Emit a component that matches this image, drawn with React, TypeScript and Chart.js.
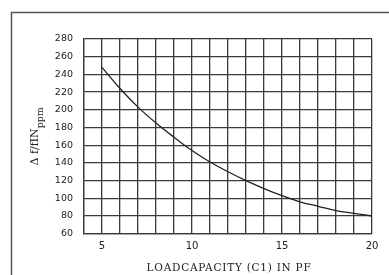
import React, { useEffect, useRef } from "react";
import { Chart, registerables } from "chart.js";

Chart.register(...registerables);

const capacities = [5, 6, 7, 8, 9, 10, 11, 12, 13, 14, 15, 16, 17, 18, 19, 20];
const deviation = [248, 224, 203, 185, 169, 154, 141, 130, 120, 111, 103, 96, 91, 86, 83, 80];
const xTickLabels = [5, 10, 15, 20];
const yTickLabels = [60, 80, 100, 120, 140, 160, 180, 200, 220, 240, 260, 280];
const xTitle = "LOADCAPACITY (C1) IN PF";
const yTitleMain = "\u0394 f/fIN";
const yTitleSub = "ppm";

const decorPlugin = {
  id: "decor",
  beforeDraw(chart: any) {
    const ctx = chart.ctx;
    ctx.save();
    ctx.strokeStyle = "#555";
    ctx.lineWidth = 1.5;
    ctx.strokeRect(11.5, 12.5, 420, 300);
    ctx.restore();
  },
  afterDraw(chart: any) {
    const ctx = chart.ctx;
    const area = chart.chartArea;
    ctx.save();
    ctx.fillStyle = "#222";
    // x title
    ctx.font = "10.5px 'DejaVu Serif'";
    (ctx as any).letterSpacing = "0.75px";
    ctx.textAlign = "center";
    ctx.textBaseline = "alphabetic";
    ctx.fillText(xTitle, (area.left + area.right) / 2 + 1, 271);
    (ctx as any).letterSpacing = "0px";
    // y title with subscript
    ctx.translate(38, (area.top + area.bottom) / 2);
    ctx.rotate(-Math.PI / 2);
    ctx.font = "11px 'DejaVu Serif'";
    const mainW = ctx.measureText(yTitleMain).width;
    ctx.font = "9.5px 'DejaVu Serif'";
    const subW = ctx.measureText(yTitleSub).width;
    const total = mainW + subW;
    ctx.textAlign = "left";
    ctx.font = "11px 'DejaVu Serif'";
    ctx.fillText(yTitleMain, -total / 2, 0);
    ctx.font = "9.5px 'DejaVu Serif'";
    ctx.fillText(yTitleSub, -total / 2 + mainW, 5);
    ctx.restore();
  },
};

export default function App() {
  const ref = useRef<HTMLCanvasElement>(null);
  useEffect(() => {
    if (!ref.current) return;
    const chart = new Chart(ref.current, {
      type: "line",
      data: {
        datasets: [
          {
            data: capacities.map((c, i) => ({ x: c, y: deviation[i] })),
            borderColor: "#222",
            borderWidth: 1.3,
            pointRadius: 0,
            tension: 0.4,
            fill: false,
          },
        ],
      },
      options: {
        responsive: false,
        animation: false,
        layout: { padding: { left: 0, top: 39, right: 17, bottom: 0 } },
        plugins: { legend: { display: false }, tooltip: { enabled: false } },
        scales: {
          x: {
            type: "linear",
            min: 4,
            max: 20,
            afterFit: (s: any) => {
              s.height = 41.3;
            },
            afterBuildTicks: (s: any) => {
              const t = [];
              for (let v = 4; v <= 20; v++) t.push({ value: v });
              s.ticks = t;
            },
            ticks: {
              autoSkip: false,
              maxRotation: 0,
              padding: 7,
              color: "#222",
              font: { family: "'DejaVu Sans'", size: 10 },
              callback: (v: any) => (xTickLabels.includes(Number(v)) ? String(v) : ""),
            },
            grid: { color: "#3a3a3a", lineWidth: 1.3, drawTicks: false },
            border: { color: "#3a3a3a", width: 1.3 },
          },
          y: {
            type: "linear",
            min: 60,
            max: 280,
            afterFit: (s: any) => {
              s.width = 84;
            },
            afterBuildTicks: (s: any) => {
              s.ticks = yTickLabels.map((v) => ({ value: v }));
            },
            ticks: {
              autoSkip: false,
              padding: 11,
              color: "#222",
              font: { family: "'DejaVu Sans'", size: 9.5 },
            },
            grid: { color: "#3a3a3a", lineWidth: 1.3, drawTicks: false },
            border: { color: "#3a3a3a", width: 1.3 },
          },
        },
      },
      plugins: [decorPlugin],
    } as any);
    return () => chart.destroy();
  }, []);
  return (
    <div style={{ position: "fixed", left: 0, top: 0, width: 389, height: 275, background: "#fff" }}>
      <canvas ref={ref} width={389} height={275} style={{ display: "block" }} />
    </div>
  );
}
